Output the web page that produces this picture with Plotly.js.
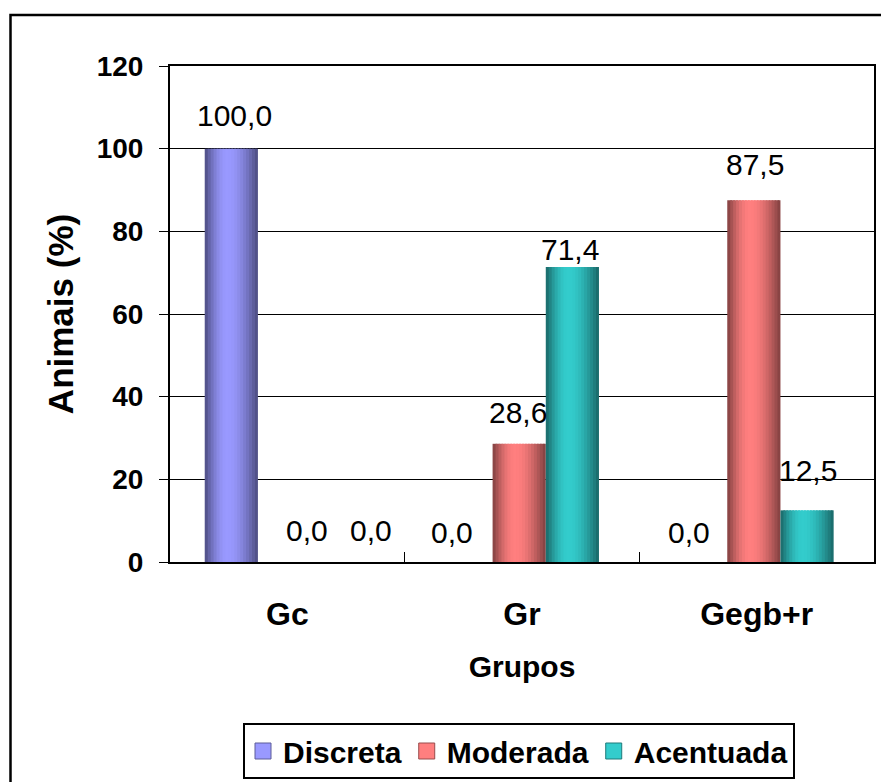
<!DOCTYPE html>
<html>
<head>
<meta charset="utf-8">
<script src="https://cdn.plot.ly/plotly-3.0.1.min.js"></script>
<style>
  html, body { margin: 0; padding: 0; background: #ffffff; }
  #chart { width: 881px; height: 782px; }
</style>
</head>
<body>
<div id="chart"></div>
<script>
// Groups and the share of animals (%) in each intensity class
const categories = ['Gc', 'Gr', 'Gegb+r'];
const seriesNames = ['Discreta', 'Moderada', 'Acentuada'];
const discreta  = [100.0, 0.0, 0.0];
const moderada  = [0.0, 28.6, 87.5];
const acentuada = [0.0, 71.4, 12.5];
const yTickValues = [0, 20, 40, 60, 80, 100, 120];

const seriesValues = [discreta, moderada, acentuada];
const seriesColors = ['#9999ff', '#ff7f7f', '#33cccc'];

// Pixel nudges for the value labels [series][group] -> [dx, dy above bar top]
const labelNudge = [
  [[3, 33], [-14, 30], [-12, 30]],
  [[22, 32], [-1, 31], [1, 36]],
  [[33, 32], [-2, 17], [1, 40]]
];

const FONT = '"Liberation Sans", Arial, Helvetica, sans-serif';
const bargap = 0.32;
const barW = (1 - bargap) / 3;
const shift = -0.012;
const STRIPS = 18;
const step = barW / STRIPS;

function hexToRgb(h) {
  return [parseInt(h.slice(1, 3), 16), parseInt(h.slice(3, 5), 16), parseInt(h.slice(5, 7), 16)];
}
// cylinder-like shading: dark at both edges, brightest a little left of centre
function shadeFactor(t) {
  const peak = 0.42;
  const u = t < peak ? (t / peak) * 0.5 : 0.5 + ((t - peak) / (1 - peak)) * 0.5;
  return 0.5 + 0.5 * Math.sin(Math.PI * u);
}
function shade(hex, f) {
  const c = hexToRgb(hex).map(v => Math.round(v * f));
  return 'rgb(' + c.join(',') + ')';
}

const traces = [];
// each series is drawn as thin vertical strips so the bars get a shaded, rounded look
seriesNames.forEach((name, s) => {
  const start = -1.5 * barW + shift + s * barW;
  for (let k = 0; k < STRIPS; k++) {
    const t = (k + 0.5) / STRIPS;
    const w = k < STRIPS - 1 ? step * 1.6 : step;
    traces.push({
      type: 'bar',
      x: categories,
      y: seriesValues[s],
      offset: categories.map(() => start + k * step),
      width: categories.map(() => w),
      marker: { color: shade(seriesColors[s], shadeFactor(t)), line: { width: 0 } },
      name: name,
      legendgroup: name,
      showlegend: false,
      hoverinfo: 'skip'
    });
  }
});
// legend keys (no points of their own)
seriesNames.forEach((name, s) => {
  traces.push({
    type: 'scatter', mode: 'markers',
    x: [null], y: [null],
    name: name, legendgroup: name, showlegend: true,
    marker: { symbol: 'square', size: 16, color: seriesColors[s],
              line: { color: shade(seriesColors[s], 0.6), width: 1 } },
    hoverinfo: 'skip'
  });
});

// value labels, written with a decimal comma
const annotations = [];
seriesValues.forEach((vals, s) => {
  vals.forEach((v, g) => {
    const [dx, dy] = labelNudge[s][g];
    annotations.push({
      xref: 'x', yref: 'y',
      x: g - 1.5 * barW + shift + (s + 0.5) * barW,
      y: v,
      text: v.toFixed(1).replace('.', ','),
      showarrow: false,
      xanchor: 'center', yanchor: 'middle',
      xshift: dx, yshift: dy,
      font: { family: FONT, size: 30, color: '#000000' }
    });
  });
});

// outer chart frame (extends past the right and bottom edges of the page)
const L = 170, R = 874, T = 66, B = 562;
const px = x => (x - L) / (R - L);
const py = y => (B - y) / (B - T);
const shapes = [{
  type: 'rect', xref: 'paper', yref: 'paper',
  x0: px(10.5), x1: px(920), y0: py(830), y1: py(15),
  line: { color: '#000000', width: 2.5 }, fillcolor: 'rgba(0,0,0,0)', layer: 'above'
}];

const layout = {
  width: 881, height: 782,
  margin: { l: L, r: 881 - R, t: T, b: 782 - B, pad: 0, autoexpand: false },
  paper_bgcolor: '#ffffff', plot_bgcolor: '#ffffff',
  barmode: 'overlay',
  font: { family: FONT, color: '#000000' },
  showlegend: true,
  xaxis: {
    type: 'category',
    range: [-0.5, 2.5],
    showline: true, linecolor: '#000000', linewidth: 2, mirror: true,
    ticks: 'inside', tickson: 'boundaries', ticklen: 10, tickcolor: '#000000', tickwidth: 1,
    showgrid: false, zeroline: false,
    tickfont: { family: FONT, size: 32, weight: 'bold' },
    ticklabelstandoff: 23,
    title: { text: '<b>Grupos</b>', font: { family: FONT, size: 30 }, standoff: 25 }
  },
  yaxis: {
    range: [0, 120],
    tickvals: yTickValues,
    ticktext: yTickValues.map(String),
    showline: true, linecolor: '#000000', linewidth: 2, mirror: true,
    ticks: 'outside', ticklen: 9, tickcolor: '#000000', tickwidth: 1,
    showgrid: true, gridcolor: '#000000', gridwidth: 1,
    zeroline: false,
    tickfont: { family: FONT, size: 28, weight: 'bold' },
    ticklabelstandoff: 10,
    title: { text: '<b>Animais (%)</b>', font: { family: FONT, size: 35 }, standoff: 12 }
  },
  legend: {
    orientation: 'h',
    x: px(519), xanchor: 'center',
    y: py(723), yanchor: 'top',
    bordercolor: '#000000', borderwidth: 2,
    bgcolor: '#ffffff',
    font: { family: FONT, size: 30, weight: 'bold' },
    itemclick: false, itemdoubleclick: false
  },
  annotations: annotations,
  shapes: shapes
};

Plotly.newPlot('chart', traces, layout, { staticPlot: true, displayModeBar: false });
</script>
</body>
</html>
